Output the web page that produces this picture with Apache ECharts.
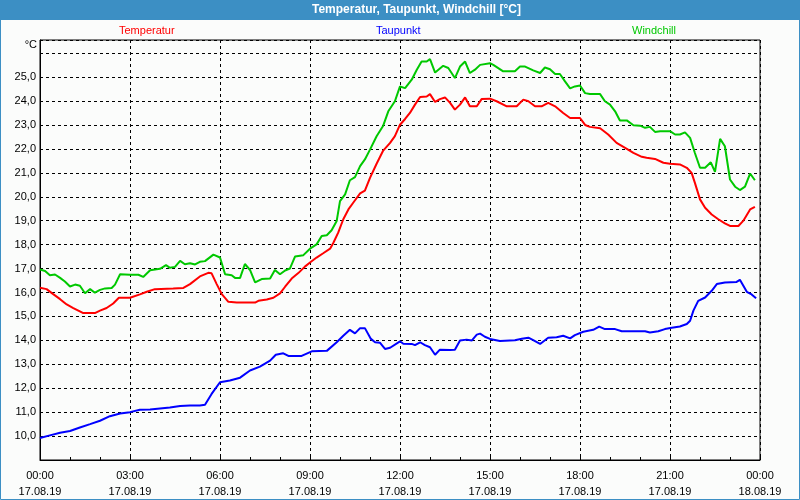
<!DOCTYPE html>
<html>
<head>
<meta charset="utf-8">
<script src="https://cdn.jsdelivr.net/npm/echarts@6/dist/echarts.min.js"></script>
<style>
html,body{margin:0;padding:0;background:#fbfcfb;}
#chart{width:800px;height:500px;}
</style>
</head>
<body>
<div id="chart"></div>
<script>
// ---- Data (hours since 17.08.19 00:00, values in °C) ----
var seriesNames = ['Temperatur', 'Taupunkt', 'Windchill'];
var tickTimes = ['00:00','03:00','06:00','09:00','12:00','15:00','18:00','21:00','00:00'];
var tickDates = ['17.08.19','17.08.19','17.08.19','17.08.19','17.08.19','17.08.19','17.08.19','17.08.19','18.08.19'];

var tempHours = [0,0.22,0.44,0.67,0.89,1.11,1.33,1.44,1.83,2.0,2.22,2.44,2.63,3.0,3.33,3.56,3.83,4.44,4.78,5.0,5.33,5.61,5.72,5.89,6.06,6.28,6.56,7.17,7.28,7.56,7.78,8.0,8.17,8.39,8.61,8.83,9.0,9.22,9.44,9.67,9.78,9.94,10.11,10.28,10.44,10.67,10.83,11.0,11.22,11.44,11.67,11.83,12.0,12.17,12.33,12.5,12.67,12.89,13.0,13.17,13.33,13.5,13.67,13.83,14.0,14.17,14.33,14.56,14.72,15.0,15.22,15.56,15.89,16.11,16.28,16.5,16.72,16.94,17.17,17.44,17.67,18.0,18.17,18.33,18.67,18.94,19.22,19.56,19.78,20.06,20.22,20.5,20.78,21.0,21.33,21.56,21.72,21.83,22.0,22.17,22.39,22.61,22.83,23.0,23.28,23.44,23.67,23.83];
var tempValues = [16.2,16.14,15.93,15.72,15.5,15.35,15.21,15.14,15.14,15.24,15.35,15.54,15.78,15.78,15.92,16.03,16.14,16.17,16.19,16.35,16.67,16.82,16.8,16.35,15.93,15.61,15.58,15.58,15.65,15.71,15.78,15.96,16.24,16.58,16.81,17.08,17.25,17.46,17.64,17.83,18.08,18.5,19.06,19.47,19.75,20.14,20.26,20.79,21.38,21.93,22.25,22.53,23.01,23.25,23.5,23.85,24.17,24.19,24.29,23.96,24.08,24.15,23.92,23.64,23.85,24.15,23.78,23.78,24.08,24.1,23.99,23.78,23.78,24.06,23.99,23.78,23.78,23.92,23.78,23.5,23.29,23.29,23.0,22.92,22.86,22.6,22.25,22.0,21.83,21.67,21.63,21.58,21.42,21.38,21.35,21.21,21.0,20.58,19.89,19.54,19.26,19.06,18.89,18.78,18.78,18.99,19.47,19.58];

var dewHours = [0,0.33,0.67,1.0,1.33,1.67,2.0,2.33,2.67,3.0,3.33,3.67,4.0,4.33,4.67,5.0,5.33,5.5,5.72,6.0,6.33,6.67,7.0,7.33,7.67,7.86,8.11,8.28,8.72,9.06,9.56,9.89,10.11,10.33,10.5,10.67,10.83,11.03,11.17,11.33,11.5,11.67,12.0,12.11,12.39,12.5,12.67,12.83,13.0,13.17,13.33,13.67,13.83,14.0,14.22,14.39,14.56,14.67,14.83,15.0,15.33,15.83,16.06,16.28,16.44,16.67,16.94,17.22,17.44,17.67,17.83,18.11,18.44,18.64,18.83,19.17,19.39,20.17,20.33,20.61,20.83,21.06,21.33,21.56,21.67,21.78,21.94,22.17,22.39,22.56,22.83,23.22,23.33,23.56,23.72,23.87];
var dewValues = [9.92,10.03,10.14,10.21,10.36,10.5,10.64,10.83,10.94,11.0,11.1,11.11,11.15,11.19,11.26,11.28,11.28,11.31,11.76,12.25,12.32,12.44,12.74,12.9,13.15,13.4,13.46,13.35,13.35,13.54,13.56,13.92,14.19,14.44,14.29,14.51,14.51,14.06,13.92,13.9,13.64,13.69,13.96,13.86,13.85,13.8,13.92,13.8,13.71,13.4,13.61,13.6,13.61,13.99,14.03,13.99,14.24,14.28,14.15,14.06,13.97,14.0,14.07,14.11,14.01,13.85,14.11,14.13,14.19,14.08,14.22,14.36,14.44,14.57,14.47,14.47,14.38,14.38,14.33,14.38,14.47,14.53,14.58,14.68,14.82,15.24,15.65,15.79,16.07,16.35,16.42,16.44,16.53,16.03,15.92,15.76];

var chillHours = [0,0.17,0.33,0.5,0.67,0.83,1.0,1.17,1.33,1.5,1.67,1.83,2.0,2.17,2.39,2.5,2.67,3.0,3.28,3.44,3.67,4.0,4.2,4.33,4.5,4.67,4.83,5.0,5.17,5.33,5.5,5.78,6.0,6.17,6.39,6.5,6.67,6.83,7.0,7.17,7.39,7.67,7.83,8.0,8.17,8.33,8.5,8.78,9.0,9.22,9.39,9.56,9.72,9.89,10.0,10.17,10.33,10.5,10.67,10.83,11.0,11.22,11.44,11.61,11.83,12.0,12.17,12.39,12.56,12.72,12.89,13.0,13.17,13.44,13.61,13.83,14.0,14.17,14.33,14.5,14.67,15.0,15.11,15.44,15.83,16.0,16.17,16.44,16.67,16.83,17.0,17.17,17.33,17.5,17.67,17.83,18.0,18.17,18.33,18.67,18.83,19.0,19.17,19.33,19.56,19.78,20.0,20.17,20.33,20.5,20.67,21.0,21.17,21.33,21.5,21.67,21.83,22.0,22.17,22.36,22.5,22.67,22.83,23.0,23.17,23.33,23.5,23.67,23.83];
var chillValues = [16.96,16.9,16.72,16.75,16.61,16.46,16.25,16.33,16.28,15.97,16.14,15.99,16.11,16.17,16.19,16.33,16.76,16.74,16.74,16.65,16.93,16.99,17.14,17.03,17.07,17.32,17.18,17.22,17.17,17.28,17.31,17.58,17.46,16.76,16.72,16.61,16.61,17.19,16.94,16.42,16.56,16.58,16.94,16.76,16.92,17.0,17.5,17.56,17.83,18.01,18.36,18.39,18.6,18.99,19.82,20.1,20.69,20.82,21.28,21.56,21.97,22.53,22.97,23.57,23.99,24.61,24.54,24.89,25.31,25.65,25.65,25.75,25.19,25.47,25.38,24.96,25.44,25.65,25.17,25.31,25.51,25.58,25.51,25.24,25.24,25.44,25.44,25.28,25.17,25.4,25.33,25.13,25.13,24.82,24.53,24.61,24.65,24.33,24.29,24.29,23.99,23.85,23.57,23.19,23.19,22.99,22.97,22.88,22.92,22.71,22.74,22.74,22.6,22.6,22.69,22.46,21.83,21.21,21.21,21.44,21.04,22.42,22.11,20.72,20.42,20.28,20.42,20.97,20.69];

function pairs(h, v) { return h.map(function (t, i) { return [t, v[i]]; }); }

var FONT = 'Liberation Sans';
var colors = ['#ff0000', '#0000ff', '#00c800'];

var chart = echarts.init(document.getElementById('chart'), null, {renderer: 'canvas'});
chart.setOption({
  animation: false,
  backgroundColor: '#fbfcfb',
  title: {
    text: 'Temperatur, Taupunkt, Windchill [°C]',
    left: 312, top: 3, padding: 0,
    textStyle: {color: '#ffffff', fontFamily: FONT, fontWeight: 'bold', fontSize: 12, lineHeight: 14}
  },
  graphic: [
    {type: 'rect', z: -1, shape: {x: 0, y: 0, width: 800, height: 20}, style: {fill: '#3c8fc4'}, silent: true},
    {type: 'rect', z: 100, shape: {x: 0.5, y: 0.5, width: 799, height: 499}, style: {fill: null, stroke: '#3c8fc4', lineWidth: 1}, silent: true}
  ],
  legend: [
    {data: [seriesNames[0]], left: 114, top: 25, itemWidth: 0, itemHeight: 0, icon: 'rect', padding: 0,
     textStyle: {color: colors[0], fontFamily: FONT, fontSize: 11}},
    {data: [seriesNames[1]], left: 371, top: 25, itemWidth: 0, itemHeight: 0, icon: 'rect', padding: 0,
     textStyle: {color: colors[1], fontFamily: FONT, fontSize: 11}},
    {data: [seriesNames[2]], left: 627, top: 25, itemWidth: 0, itemHeight: 0, icon: 'rect', padding: 0,
     textStyle: {color: colors[2], fontFamily: FONT, fontSize: 11}}
  ],
  grid: {left: 40, right: 40, top: 40, bottom: 39, show: true, borderColor: '#000', borderWidth: 1, backgroundColor: 'transparent'},
  xAxis: {
    type: 'value', min: 0, max: 24, interval: 3,
    axisLine: {show: true, lineStyle: {color: '#000', width: 1}},
    axisTick: {show: true, inside: true, length: 3, lineStyle: {color: '#000'}},
    minorTick: {show: true, splitNumber: 3, length: 3, lineStyle: {color: '#000'}},
    splitLine: {show: true, lineStyle: {color: '#000', type: [3, 3], width: 1}},
    axisLabel: {
      margin: 8, color: '#000', fontFamily: FONT, fontSize: 11, lineHeight: 16,
      formatter: function (v) { var i = Math.round(v / 3); return tickTimes[i] + '\n' + tickDates[i]; }
    }
  },
  yAxis: {
    type: 'value', min: 9, max: 26.55, interval: 1,
    name: '°C', nameLocation: 'end', nameGap: -5,
    nameTextStyle: {color: '#000', fontFamily: FONT, fontSize: 11, align: 'right', verticalAlign: 'middle', padding: [0, 3, 0, 0]},
    axisLine: {show: true, lineStyle: {color: '#000', width: 1}},
    axisTick: {show: false},
    splitLine: {show: true, lineStyle: {color: '#000', type: [3, 3], width: 1}},
    axisLabel: {
      margin: 4, color: '#000', fontFamily: FONT, fontSize: 11,
      formatter: function (v) {
        if (Math.abs(v - Math.round(v)) > 1e-6 || v < 10 || v > 25) return '';
        return v.toFixed(1).replace('.', ',');
      }
    }
  },
  series: [
    {name: seriesNames[0], type: 'line', data: pairs(tempHours, tempValues), showSymbol: false, symbol: 'none',
     lineStyle: {color: colors[0], width: 2}, itemStyle: {color: colors[0]}, z: 3},
    {name: seriesNames[1], type: 'line', data: pairs(dewHours, dewValues), showSymbol: false, symbol: 'none',
     lineStyle: {color: colors[1], width: 2}, itemStyle: {color: colors[1]}, z: 3},
    {name: seriesNames[2], type: 'line', data: pairs(chillHours, chillValues), showSymbol: false, symbol: 'none',
     lineStyle: {color: colors[2], width: 2}, itemStyle: {color: colors[2]}, z: 3}
  ]
});
</script>
</body>
</html>
